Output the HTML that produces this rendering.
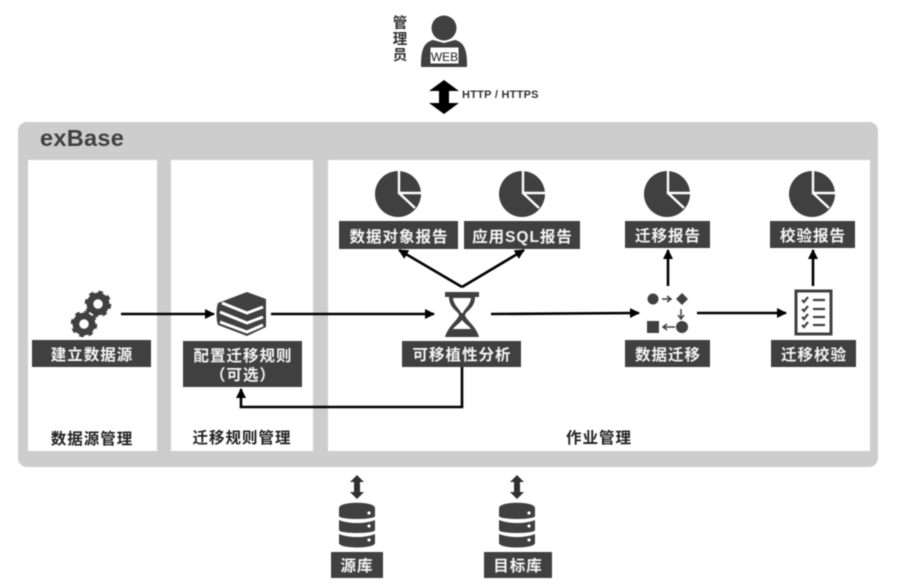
<!DOCTYPE html>
<html><head><meta charset="utf-8">
<style>
html,body{margin:0;padding:0;background:#fff;width:900px;height:587px;overflow:hidden}
svg{display:block;filter:blur(.4px)}
text{font-family:"Liberation Sans","Noto Sans CJK SC",sans-serif}
.l{fill:#f4f4f4;font-size:15.500px;font-weight:700;letter-spacing:1px;text-anchor:middle}
.t{fill:#222;font-size:15.500px;font-weight:700;letter-spacing:1px;text-anchor:middle}
.b{fill:#404040}
.ln{stroke:#000;stroke-width:2.600;fill:none}
</style></head><body>
<svg width="900" height="587" viewBox="0 0 900 587" xmlns="http://www.w3.org/2000/svg">
<defs>
<marker id="a" markerWidth="12" markerHeight="12" refX="9" refY="5" orient="auto" markerUnits="userSpaceOnUse"><path d="M0 0L10 5L0 10Z" fill="#000"/></marker>
<g id="pie"><circle r="23" fill="#404040"/><path d="M1-24V-1H24M1-1L17 14" stroke="#fff" stroke-width="2.400" fill="none"/></g>
<g id="gear"><circle r="8.500" fill="none" stroke="#404040" stroke-width="7"/><circle r="12" fill="none" stroke="#404040" stroke-width="4" stroke-dasharray="4.700 4.700"/></g>
<g id="db"><path d="M-18-17C-18-24 18-24 18-17V-9C18-5-18-5-18-9Z" fill="#404040"/><path d="M-18-5C-8-1 8-1 18-5V5C18 9-18 9-18 5Z" fill="#404040"/><path d="M-18 9C-8 13 8 13 18 9V18C18 24-18 24-18 18Z" fill="#404040"/><circle cx="12" cy="1" r="1.600" fill="#fff"/><circle cx="12" cy="15" r="1.600" fill="#fff"/><circle cx="12" cy="-12" r="1.600" fill="#fff"/></g>
<g id="dbl"><path d="M0-12L7-5H3V5H7L0 12L-7 5H-3V-5H-7Z" fill="#303030"/></g>
</defs>

<rect x="18" y="122" width="860" height="345" rx="9" fill="#cdcdcd"/>
<rect x="28" y="160" width="129" height="291" fill="#fff"/>
<rect x="171" y="160" width="142" height="291" fill="#fff"/>
<rect x="328" y="160" width="542" height="291" fill="#fff"/>
<text x="40" y="146" font-size="23.500" font-weight="700" fill="#404040" letter-spacing=".3">exBase</text>

<!-- admin -->
<text x="400" y="28" font-size="14.500" font-weight="700" fill="#333" text-anchor="middle">管</text>
<text x="400" y="44" font-size="14.500" font-weight="700" fill="#333" text-anchor="middle">理</text>
<text x="400" y="60" font-size="14.500" font-weight="700" fill="#333" text-anchor="middle">员</text>
<circle cx="444" cy="28" r="12.500" fill="#404040"/>
<path d="M421 64C421 48 425 42 433 40L444 43L455 40C463 42 467 48 467 64Z" fill="#404040"/>
<rect x="421" y="64" width="46" height="3" fill="#404040"/>
<rect x="430" y="47" width="29" height="17" fill="#fff" stroke="#404040" stroke-width="1"/>
<text x="444.500" y="61" font-size="12" fill="#222" text-anchor="middle">WEB</text>
<path d="M444 80L459 91H449V103H459L444 114L429 103H439V91H429Z" fill="#000"/>
<text x="462" y="98" font-size="11" font-weight="700" fill="#333" letter-spacing=".25">HTTP / HTTPS</text>

<!-- gears -->
<use href="#gear" transform="translate(98 304) scale(.95)"/>
<use href="#gear" transform="translate(84 324) scale(.95)"/>

<!-- books -->
<path d="M218 303L247 292L266 299V327L247 336L218 325C216 320 216 308 218 303Z" fill="#404040"/>
<path d="M222 303L247 313L263 307M220 312L247 323L263 317M220 322L247 332L263 325" stroke="#fff" stroke-width="3" fill="none"/>

<!-- hourglass -->
<path d="M445 292H479V297H475C475 308 466 311 465 315C466 320 476 326 479 337H445C448 326 458 320 459 315C458 311 449 308 449 297H445Z" fill="#404040"/>
<path d="M453 298H471C470 306 464 309 463 313H461C460 309 454 306 453 298Z" fill="#fff"/>
<path d="M462 320C459 324 455 326 453 329H471C469 326 465 324 462 320Z" fill="#fff"/>

<!-- flow icon -->
<circle cx="653" cy="299" r="5.500" fill="#404040"/>
<path d="M682 293L688 299L682 305L676 299Z" fill="#404040"/>
<rect x="647" y="321" width="12" height="12" fill="#404040"/>
<circle cx="682" cy="327" r="6" fill="#404040"/>
<path d="M662 299H670M667 296L671 299L667 302M681 309V318M678 315L681 319L684 315M675 327H664M667 324L663 327L667 330" stroke="#404040" stroke-width="1.500" fill="none"/>

<!-- checklist -->
<rect x="796" y="291" width="35" height="43" fill="#fff" stroke="#404040" stroke-width="3"/>
<path d="M802 300L804 302L808 297M802 309L804 311L808 306M802 317L804 319L808 314M802 325L804 327L808 322" stroke="#404040" stroke-width="2.200" fill="none"/>
<path d="M813 300H825M813 309H825M813 317H825M813 325H825" stroke="#404040" stroke-width="2.200" fill="none"/>

<!-- pies -->
<use href="#pie" transform="translate(398 194)"/>
<use href="#pie" transform="translate(522 194)"/>
<use href="#pie" transform="translate(667 194)"/>
<use href="#pie" transform="translate(812 194)"/>

<!-- boxes -->
<rect class="b" x="32" y="340" width="119" height="27"/>
<rect class="b" x="183" y="341" width="119" height="46"/>
<rect class="b" x="402" y="341" width="119" height="26"/>
<rect class="b" x="339" y="221" width="119" height="28"/>
<rect class="b" x="464" y="221" width="116" height="28"/>
<rect class="b" x="625" y="221" width="85" height="27"/>
<rect class="b" x="770" y="221" width="85" height="27"/>
<rect class="b" x="625" y="340" width="85" height="27"/>
<rect class="b" x="771" y="340" width="85" height="27"/>
<rect class="b" x="331" y="552" width="52" height="26"/>
<rect class="b" x="484" y="552" width="68" height="26"/>

<text class="l" x="92" y="360">建立数据源</text>
<text class="l" x="243" y="361">配置迁移规则</text>
<text class="l" x="243" y="380">（可选）</text>
<text class="l" x="462" y="360">可移植性分析</text>
<text class="l" x="399" y="242">数据对象报告</text>
<text class="l" x="522.500" y="242">应用SQL报告</text>
<text class="l" x="668" y="241">迁移报告</text>
<text class="l" x="813" y="241">校验报告</text>
<text class="l" x="668" y="360">数据迁移</text>
<text class="l" x="814" y="360">迁移校验</text>
<text class="l" x="357" y="571">源库</text>
<text class="l" x="518" y="571">目标库</text>

<text class="t" x="92" y="444">数据源管理</text>
<text class="t" x="242" y="443">迁移规则管理</text>
<text class="t" x="599" y="443">作业管理</text>

<!-- connectors -->
<path class="ln" d="M121 314H214" marker-end="url(#a)"/>
<path class="ln" d="M271 314H434" marker-end="url(#a)"/>
<path class="ln" d="M491 314L639 313" marker-end="url(#a)"/>
<path class="ln" d="M697 313H786" marker-end="url(#a)"/>
<path class="ln" d="M462 367V407H241V389" marker-end="url(#a)"/>
<path class="ln" d="M462 287L399 250" marker-end="url(#a)"/>
<path class="ln" d="M462 287L524 250" marker-end="url(#a)"/>
<path class="ln" d="M668 286V250" marker-end="url(#a)"/>
<path class="ln" d="M813 286V250" marker-end="url(#a)"/>

<!-- db -->
<use href="#dbl" transform="translate(357 487)"/>
<use href="#dbl" transform="translate(517 487)"/>
<use href="#db" transform="translate(357 525)"/>
<use href="#db" transform="translate(517 525)"/>
</svg>
</body></html>
